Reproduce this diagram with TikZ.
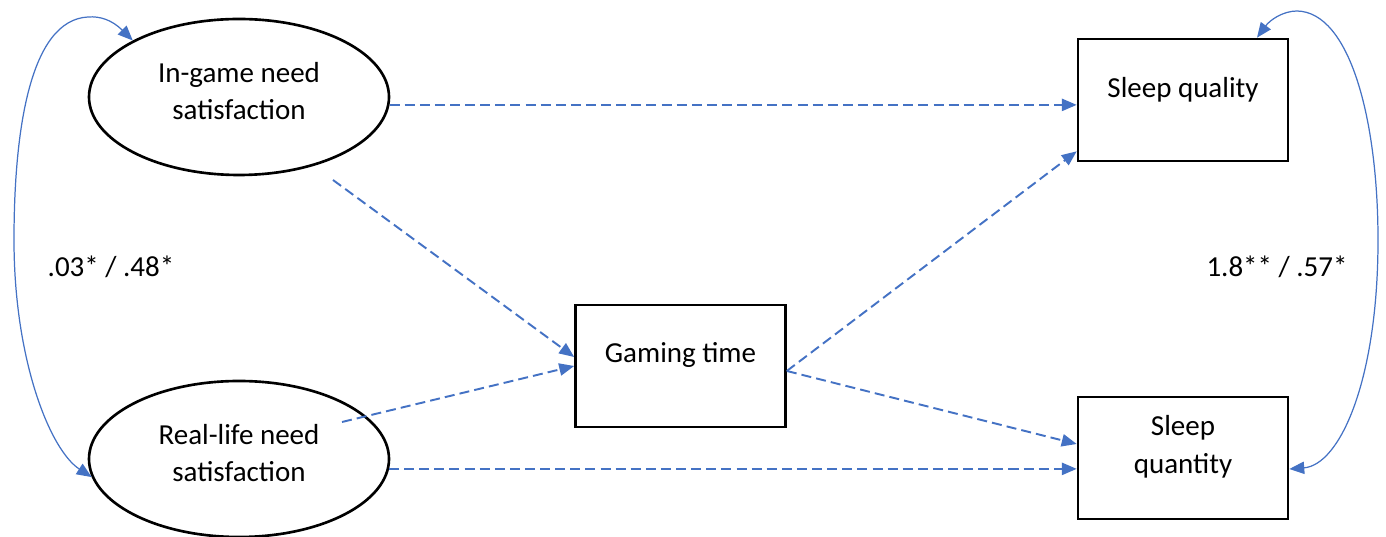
\documentclass[tikz,border=0pt]{standalone}
\usepackage{fontspec}
\setmainfont{Carlito}
\usetikzlibrary{arrows.meta,calc,shapes.geometric}
\definecolor{lineblue}{HTML}{4472C4}
\begin{document}
\begin{tikzpicture}[x=0.02cm,y=0.02cm,
  lbl/.style={font=\fontsize{16.5}{21.5}\selectfont,align=center,inner sep=0pt},
  ell/.style={draw=black,line width=1.5pt,ellipse,minimum width=300*0.02cm,minimum height=156*0.02cm,inner sep=0pt},
  boxx/.style={draw=black,line width=1.5pt,rectangle,minimum width=210*0.02cm,minimum height=122*0.02cm,inner sep=0pt},
  pth/.style={draw=lineblue,line width=1.1pt,dash pattern=on 5.7pt off 2.9pt,-{Triangle[length=8.5pt,width=7pt]}},
  cov/.style={draw=lineblue,line width=0.7pt,{Triangle[length=8.5pt,width=7pt]}-{Triangle[length=8.5pt,width=7pt]}}]
\useasboundingbox (0,0) rectangle (1386,537);
% shapes
\node[ell] (ig) at (239,440) {};
\node[ell] (rl) at (239,78) {};
\node[boxx] (gt) at (680.5,171) {};
\node[boxx] (sq) at (1183,437) {};
\node[boxx] (sqt) at (1183,79) {};
% texts
\node[lbl] (igt) at (239,446) {In-game need\\satisfaction};
\node[lbl] (rlt) at (239,84) {Real-life need\\satisfaction};
\node[lbl] (gtt) at (680.5,182) {Gaming time};
\node[lbl] (sqtx) at (1183,447) {Sleep quality};
\node[lbl] (sqtt) at (1183,90) {Sleep\\quantity};
\node[lbl] (covl) at (111,270) {.03* / .48*};
\node[lbl] (covr) at (1277,270) {1.8** / .57*};
% free starts
\coordinate (s2) at (333,357);
\coordinate (s3) at (342,115);
\coordinate (gs) at ($(gt.east)+(0,-5)$);
\coordinate (rs) at ($(rl.-4)+(0,0.6)$);
% paths
\draw[pth] (ig.-3) -- (ig.-3 -| sq.west);
\draw[pth] (s2) -- ($(gt.west)+(0,9)$);
\draw[pth] (s3) -- (gt.west);
\draw[pth] (rs) -- (rs -| sqt.west);
\draw[pth] (gs) -- ($(sq.south west)+(0,11)$);
\draw[pth] (gs) -- ($(sqt.west)+(0,14)$);
% covariances
\draw[cov] (ig.152) .. controls (112,517) and (100,521) .. (88,520)
  .. controls (30,517) and (14,407) .. (14,297)
  .. controls (14,177) and (50,87) .. (rl.187);
\draw[cov] ($(sq.north)+(74,0)$) .. controls (1270,517) and (1283,526) .. (1297,526)
  .. controls (1350,525) and (1378,417) .. (1378,297)
  .. controls (1378,157) and (1340,72) .. ($(sqt.east)+(0,-11)$);
\end{tikzpicture}
\end{document}
